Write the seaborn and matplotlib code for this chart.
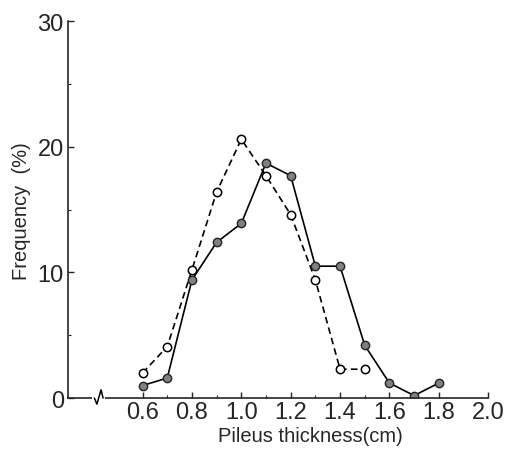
import matplotlib
matplotlib.use("Agg")
import matplotlib.pyplot as plt
import matplotlib.transforms as mtransforms
import seaborn as sns
import pandas as pd

# data
thickness = [0.6, 0.7, 0.8, 0.9, 1.0, 1.1, 1.2, 1.3, 1.4, 1.5, 1.6, 1.7, 1.8]
freq_filled = [1.0, 1.6, 9.4, 12.4, 13.9, 18.7, 17.7, 10.5, 10.5, 4.2, 1.2, 0.2, 1.2]
thickness_open = [0.6, 0.7, 0.8, 0.9, 1.0, 1.1, 1.2, 1.3, 1.4, 1.5]
freq_open = [2.0, 4.1, 10.2, 16.4, 20.6, 17.7, 14.6, 9.4, 2.3, 2.3]
xticks = [0.6, 0.8, 1.0, 1.2, 1.4, 1.6, 1.8, 2.0]
yticks = [0, 10, 20, 30]

sns.set_style("ticks")
plt.rcParams['font.family'] = ['Liberation Sans', 'DejaVu Sans']

df_filled = pd.DataFrame({'x': thickness, 'y': freq_filled})
df_open = pd.DataFrame({'x': thickness_open, 'y': freq_open})

fig = plt.figure(figsize=(5.21, 4.52), dpi=100)
ax = fig.add_axes([0.1305, 0.117, 0.8065, 0.834])

sns.lineplot(data=df_open, x='x', y='y', ax=ax, color='black', linewidth=1.2,
             linestyle=(0, (4, 2.5)), marker='o', markersize=6,
             markerfacecolor='white', markeredgecolor='black', markeredgewidth=1.1)
sns.lineplot(data=df_filled, x='x', y='y', ax=ax, color='black', linewidth=1.2,
             marker='o', markersize=6, markerfacecolor='#808080',
             markeredgecolor='#222222', markeredgewidth=1.0)

ax.set_xlim(0.298, 1.945)
ax.set_ylim(0, 30)
ax.set_xticks(xticks)
ax.set_xticklabels([f'{t:.1f}' for t in xticks])
ax.set_yticks(yticks)
ax.set_yticks([5, 15, 25], minor=True)
ax.set_xticks([0.7, 0.9, 1.1, 1.3, 1.5, 1.7], minor=True)
ax.tick_params(axis='both', which='major', direction='in', length=4, width=1,
               labelsize=17, pad=2)
ax.tick_params(axis='both', which='minor', direction='in', length=2.5, width=0.8)
ax.tick_params(axis='y', pad=3)

sns.despine(ax=ax)
ax.spines['left'].set_linewidth(1.2)
ax.spines['bottom'].set_linewidth(1.2)

ax.set_xlabel('Pileus thickness(cm)', fontsize=14.5)
ax.set_ylabel('Frequency  (%)', fontsize=14.5)
ax.xaxis.set_label_coords(0.576, -0.073)
ax.xaxis.label.set_va('top')
ax.yaxis.set_label_coords(-0.087, 0.5)

# axis break mark
trans = mtransforms.blended_transform_factory(ax.transData, ax.transAxes)
ax.plot([0.405, 0.438], [0, 0], color='white', linewidth=3, transform=trans,
        clip_on=False, zorder=5)
ax.plot([0.405, 0.415, 0.432, 0.44], [0, -0.016, 0.022, 0], color='black',
        linewidth=1.1, transform=trans, clip_on=False, zorder=6)

fig.savefig('out.png', dpi=100)
